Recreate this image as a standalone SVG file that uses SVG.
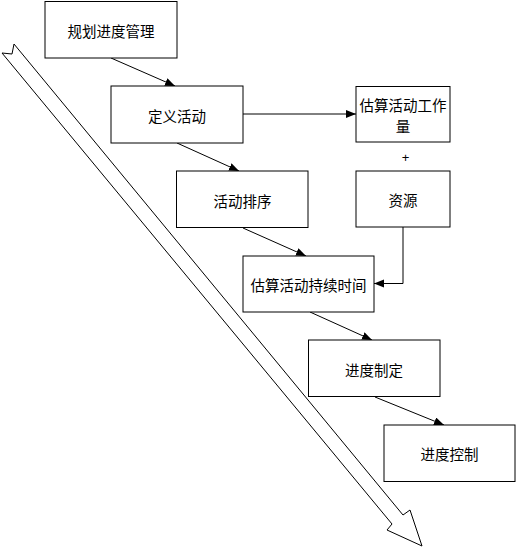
<svg xmlns="http://www.w3.org/2000/svg" width="517" height="549" viewBox="0 0 517 549">
<style>
.box{fill:#fff;stroke:#000;stroke-width:1}
.lbl{font-family:"Noto Sans CJK SC","Liberation Sans",sans-serif;font-size:14.5px;fill:#000;text-anchor:middle;dominant-baseline:central}
.con{fill:none;stroke:#000;stroke-width:1;marker-end:url(#ah)}
</style>
<defs>
<marker id="ah" markerUnits="userSpaceOnUse" markerWidth="11" markerHeight="9" refX="10" refY="4" orient="auto">
<path d="M0,0 L10,4 L0,8 z" fill="#000"/>
</marker>
</defs>
<rect width="517" height="549" fill="#fff"/>
<g id="timeline">
<polygon points="2,53 12,54 14,44 403,515 410,510 422,546 387,530 392,524" fill="#fff" stroke="#000" stroke-width="1"/>
</g>
<g id="connectors">
<path class="con" d="M111,58 L175,86"/>
<path class="con" d="M177,143 L239,171"/>
<path class="con" d="M243,114 L356,114"/>
<path class="con" d="M243,228 L306,256"/>
<path class="con" d="M403,227 L403,283.5 L374,283.5"/>
<path class="con" d="M310,312 L372,340"/>
<path class="con" d="M375,397 L444,425"/>
</g>
<g id="n1"><rect class="box" x="45" y="1.5" width="132" height="56.5"/><text class="lbl" x="111" y="30.5">规划进度管理</text></g>
<g id="n2"><rect class="box" x="111" y="86" width="132" height="57"/><text class="lbl" x="177" y="115">定义活动</text></g>
<g id="n3"><rect class="box" x="176.5" y="171" width="131.5" height="56.5"/><text class="lbl" x="242.5" y="200">活动排序</text></g>
<g id="n4"><rect class="box" x="356" y="86.5" width="94" height="55.5"/><text class="lbl"><tspan x="403" y="103.5">估算活动工作</tspan><tspan x="403" y="124.5">量</tspan></text></g>
<g id="plus"><text x="405.5" y="157" font-family="Liberation Sans, sans-serif" font-size="13" text-anchor="middle" dominant-baseline="central">+</text></g>
<g id="n5"><rect class="box" x="356" y="171" width="94" height="56"/><text class="lbl" x="403" y="199.5">资源</text></g>
<g id="n6"><rect class="box" x="243" y="256" width="131" height="56"/><text class="lbl" x="308.5" y="284.5">估算活动持续时间</text></g>
<g id="n7"><rect class="box" x="308.5" y="340" width="131.5" height="56.5"/><text class="lbl" x="374" y="369">进度制定</text></g>
<g id="n8"><rect class="box" x="384" y="425" width="131" height="56.5"/><text class="lbl" x="449.5" y="453.5">进度控制</text></g>
</svg>
